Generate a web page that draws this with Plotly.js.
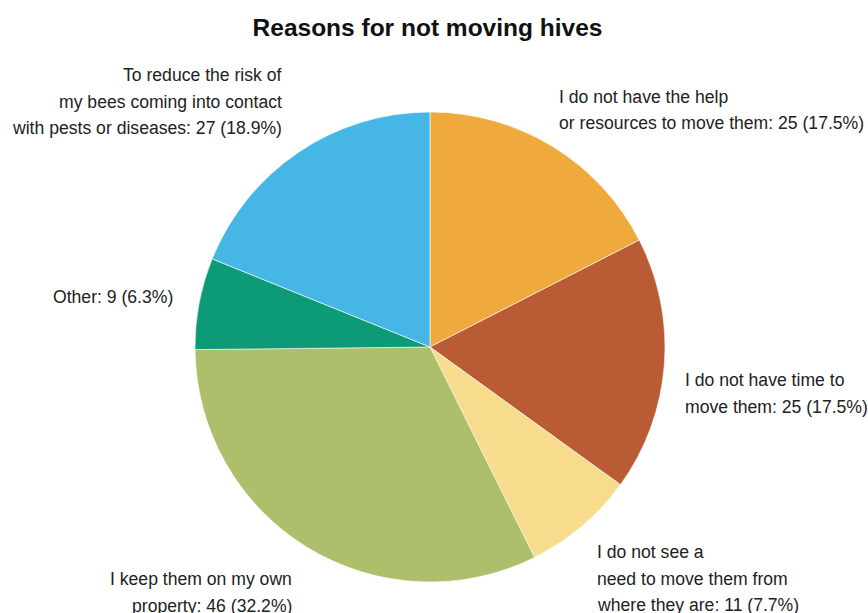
<!DOCTYPE html>
<html>
<head>
<meta charset="utf-8">
<script src="https://cdn.plot.ly/plotly-3.0.1.min.js"></script>
<style>html,body{margin:0;padding:0;background:#fff;}#chart{width:868px;height:613px;}</style>
</head>
<body>
<div id="chart"></div>
<script>
const categories = [
  "I do not have the help or resources to move them",
  "I do not have time to move them",
  "I do not see a need to move them from where they are",
  "I keep them on my own property",
  "Other",
  "To reduce the risk of my bees coming into contact with pests or diseases"
];
const counts = [25, 25, 11, 46, 9, 27];
const percents = ["17.5%", "17.5%", "7.7%", "32.2%", "6.3%", "18.9%"];
const colors = ["#EFA93C", "#B95C36", "#F6DC8C", "#ADBF6B", "#0C9A77", "#46B6E6"];
const labelLines = [
  ["I do not have the help", "or resources to move them: 25 (17.5%)"],
  ["I do not have time to", "move them: 25 (17.5%)"],
  ["I do not see a", "need to move them from", "where they are: 11 (7.7%)"],
  ["I keep them on my own", "property: 46 (32.2%)"],
  ["Other: 9 (6.3%)"],
  ["To reduce the risk of", "my bees coming into contact", "with pests or diseases: 27 (18.9%)"]
];

const W = 868, H = 613;
// label placement: [anchor x px, first line y px, align]
const labelPos = [
  [557, 97, "left"],
  [683, 380, "left"],
  [595, 552, "left"],
  [294, 579, "right"],
  [175, 297, "right"],
  [284, 75, "right"]
];
const lineGap = 26.5;

const annotations = [];
labelLines.forEach((lines, i) => {
  const [px, py, al] = labelPos[i];
  lines.forEach((t, j) => {
    annotations.push({
      text: t, showarrow: false, xref: "paper", yref: "paper",
      x: px / W, y: 1 - (py + j * lineGap) / H,
      xanchor: al, yanchor: "middle", align: al,
      font: {family: "Liberation Sans, Arial, sans-serif", size: 17.6, color: "#222"}
    });
  });
});

const cx = 430, cy = 347, r = 235;
const trace = {
  type: "pie",
  labels: categories,
  values: counts,
  sort: false,
  direction: "clockwise",
  rotation: 0,
  textinfo: "none",
  hoverinfo: "label+value+percent",
  marker: {colors: colors, line: {color: "#ffffff", width: 0.6}},
  domain: {x: [(cx - r) / W, (cx + r) / W], y: [1 - (cy + r) / H, 1 - (cy - r) / H]},
  showlegend: false
};

const layout = {
  width: W, height: H,
  margin: {l: 0, r: 0, t: 0, b: 0},
  paper_bgcolor: "#ffffff",
  title: {
    text: "<b>Reasons for not moving hives</b>",
    font: {family: "Liberation Sans, Arial, sans-serif", size: 24.5, color: "#111"},
    x: 427.5 / W, xanchor: "center", y: 1 - 27 / H, yanchor: "middle", yref: "container"
  },
  annotations: annotations
};

Plotly.newPlot("chart", [trace], layout, {displayModeBar: false, staticPlot: true});
</script>
</body>
</html>
